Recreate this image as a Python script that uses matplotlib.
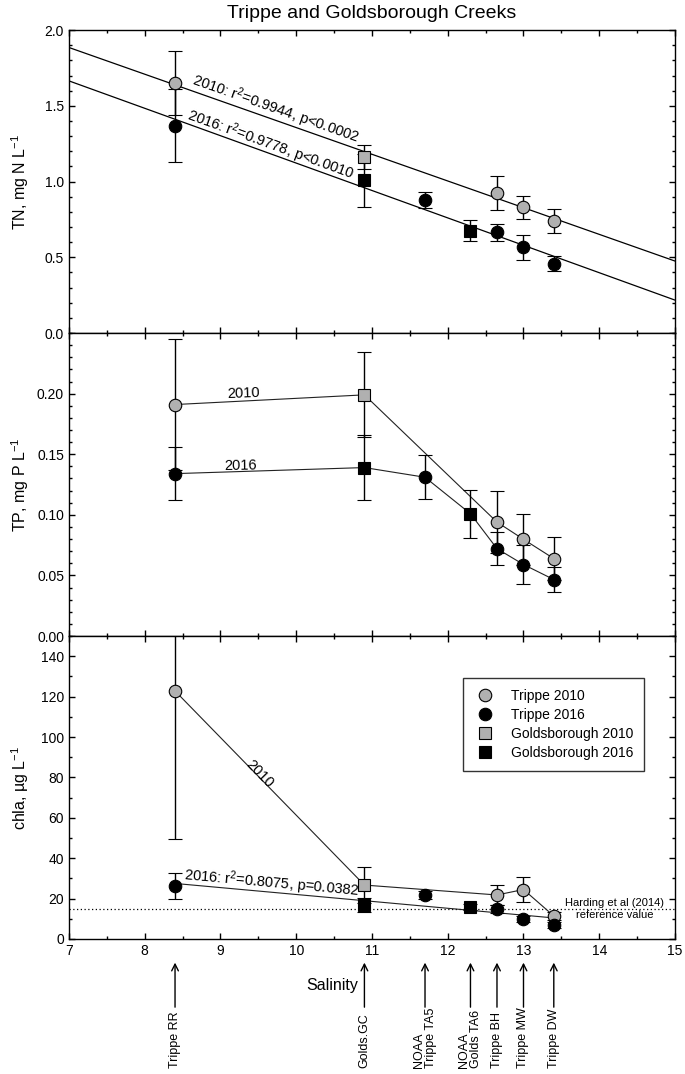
import numpy as np
import matplotlib
matplotlib.use("Agg")
import matplotlib.pyplot as plt
from matplotlib.lines import Line2D
from matplotlib.ticker import MultipleLocator, FormatStrFormatter

plt.rcParams['font.family'] = ['Liberation Sans', 'DejaVu Sans']
plt.rcParams['mathtext.fontset'] = 'custom'
plt.rcParams['mathtext.rm'] = 'Liberation Sans'
plt.rcParams['mathtext.it'] = 'Liberation Sans:italic'

# salinity of each site (x positions)
sal_trippe10 = [8.4, 12.65, 13.0, 13.4]
sal_trippe16 = [8.4, 11.7, 12.65, 13.0, 13.4]
sal_golds10 = [10.9]
sal_golds16 = [10.9, 12.3]

# TN, mg N/L  (mean, error)
tn_trippe10 = [1.65, 0.925, 0.83, 0.742]
tn_trippe10_err = [0.21, 0.113, 0.075, 0.08]
tn_trippe16 = [1.37, 0.879, 0.664, 0.565, 0.459]
tn_trippe16_err = [0.24, 0.055, 0.056, 0.081, 0.047]
tn_golds10 = [1.163]
tn_golds10_err = [0.08]
tn_golds16 = [1.007, 0.675]
tn_golds16_err = [0.177, 0.068]

# TP, mg P/L
tp_trippe10 = [0.191, 0.094, 0.0798, 0.0639]
tp_trippe10_err = [0.054, 0.0255, 0.021, 0.018]
tp_trippe16 = [0.134, 0.131, 0.0721, 0.059, 0.0466]
tp_trippe16_err = [0.022, 0.018, 0.0135, 0.0157, 0.010]
tp_golds10 = [0.199]
tp_golds10_err = [0.035]
tp_golds16 = [0.139, 0.1009]
tp_golds16_err = [0.027, 0.02]

# chla, ug/L
chl_trippe10 = [122.8, 21.8, 24.5, 11.4]
chl_trippe10_err = [73.5, 5.0, 6.0, 2.0]
chl_trippe16 = [26.2, 21.8, 14.7, 9.7, 6.9]
chl_trippe16_err = [6.5, 2.0, 2.0, 1.5, 1.5]
chl_golds10 = [26.7]
chl_golds10_err = [9.0]
chl_golds16 = [16.8, 16.0]
chl_golds16_err = [3.5, 1.5]

harding_ref = 15

site_sal = [8.4, 10.9, 11.7, 12.3, 12.65, 13.0, 13.4]
site_names = ['Trippe RR', 'Golds.GC', 'NOAA\nTrippe TA5', 'NOAA\nGolds TA6',
              'Trippe BH', 'Trippe MW', 'Trippe DW']

GRAY = '#b0b0b0'
MS = 9


def draw_points(ax, tr10, tr10e, tr16, tr16e, g10, g10e, g16, g16e):
    kw = dict(linestyle='none', ecolor='black', elinewidth=1, capsize=4.8,
              capthick=1, markeredgecolor='black', markeredgewidth=0.8,
              markersize=MS, zorder=3)
    ax.errorbar(sal_trippe10, tr10, yerr=tr10e, fmt='o', markerfacecolor=GRAY, **kw)
    ax.errorbar(sal_trippe16, tr16, yerr=tr16e, fmt='o', markerfacecolor='black', **kw)
    ax.errorbar(sal_golds10, g10, yerr=g10e, fmt='s', markerfacecolor=GRAY, **kw)
    ax.errorbar(sal_golds16, g16, yerr=g16e, fmt='s', markerfacecolor='black', **kw)


def combined(sal_a, val_a, sal_b, val_b):
    x = np.array(sal_a + sal_b)
    y = np.array(val_a + val_b)
    order = np.argsort(x, kind='stable')
    return x[order], y[order]


def style_axis(ax):
    ax.set_xlim(7, 15)
    ax.xaxis.set_major_locator(MultipleLocator(1))
    ax.xaxis.set_minor_locator(MultipleLocator(0.5))
    ax.tick_params(which='both', direction='in', top=True, right=True,
                   labelsize=10, width=1)
    ax.tick_params(which='major', length=4)
    ax.tick_params(which='minor', length=2.5)
    for sp in ax.spines.values():
        sp.set_linewidth(1)


fig = plt.figure(figsize=(6.85, 10.74), dpi=100)
left, width, height = 0.1007, 0.8847, 0.2821
ax_tn = fig.add_axes([left, 0.6899, width, height])
ax_tp = fig.add_axes([left, 0.4078, width, height])
ax_chl = fig.add_axes([left, 0.1257, width, height])

# ---- TN panel ----
style_axis(ax_tn)
ax_tn.set_ylim(0, 2.0)
ax_tn.yaxis.set_major_locator(MultipleLocator(0.5))
ax_tn.yaxis.set_minor_locator(MultipleLocator(0.1))
ax_tn.yaxis.set_major_formatter(FormatStrFormatter('%.1f'))
ax_tn.tick_params(labelbottom=False)

x10, y10 = combined(sal_trippe10, tn_trippe10, sal_golds10, tn_golds10)
x16, y16 = combined(sal_trippe16, tn_trippe16, sal_golds16, tn_golds16)
fit10 = np.polyfit(x10, y10, 1)
fit16 = np.polyfit(x16, y16, 1)
xx = np.array([7, 15])
ax_tn.plot(xx, np.polyval(fit10, xx), color='black', lw=0.9, zorder=2)
ax_tn.plot(xx, np.polyval(fit16, xx), color='black', lw=0.9, zorder=2)
draw_points(ax_tn, tn_trippe10, tn_trippe10_err, tn_trippe16, tn_trippe16_err,
            tn_golds10, tn_golds10_err, tn_golds16, tn_golds16_err)
ax_tn.text(9.72, np.polyval(fit10, 9.72) + 0.075, '2010: r$^2$=0.9944, p<0.0002',
           rotation=np.degrees(np.arctan(fit10[0])), transform_rotates_text=True,
           rotation_mode='anchor', ha='center', va='center', fontsize=10.5)
ax_tn.text(9.66, np.polyval(fit16, 9.66) + 0.062, '2016: r$^2$=0.9778, p<0.0010',
           rotation=np.degrees(np.arctan(fit16[0])), transform_rotates_text=True,
           rotation_mode='anchor', ha='center', va='center', fontsize=10.5)
ax_tn.set_ylabel('TN, mg N L$^{-1}$', fontsize=11.5)
ax_tn.yaxis.set_label_coords(-0.063, 0.5)
ax_tn.set_title('Trippe and Goldsborough Creeks', fontsize=14, pad=9)

# ---- TP panel ----
style_axis(ax_tp)
ax_tp.set_ylim(0, 0.25)
ax_tp.set_yticks([0, 0.05, 0.10, 0.15, 0.20])
ax_tp.yaxis.set_minor_locator(MultipleLocator(0.01))
ax_tp.yaxis.set_major_formatter(FormatStrFormatter('%.2f'))
ax_tp.tick_params(labelbottom=False)

x10, y10 = combined(sal_trippe10, tp_trippe10, sal_golds10, tp_golds10)
x16, y16 = combined(sal_trippe16, tp_trippe16, sal_golds16, tp_golds16)
ax_tp.plot(x10, y10, color='#222222', lw=0.8, zorder=2)
ax_tp.plot(x16, y16, color='#222222', lw=0.8, zorder=2)
draw_points(ax_tp, tp_trippe10, tp_trippe10_err, tp_trippe16, tp_trippe16_err,
            tp_golds10, tp_golds10_err, tp_golds16, tp_golds16_err)
ax_tp.text(9.3, 0.200, '2010', ha='center', va='center', fontsize=10.5, rotation=2)
ax_tp.text(9.26, 0.1405, '2016', ha='center', va='center', fontsize=10.5, rotation=1)
ax_tp.set_ylabel('TP, mg P L$^{-1}$', fontsize=11.5)
ax_tp.yaxis.set_label_coords(-0.063, 0.5)

# ---- chla panel ----
style_axis(ax_chl)
ax_chl.set_ylim(0, 150)
ax_chl.set_yticks(np.arange(0, 141, 20))
ax_chl.yaxis.set_minor_locator(MultipleLocator(10))

x10, y10 = combined(sal_trippe10, chl_trippe10, sal_golds10, chl_golds10)
x16, y16 = combined(sal_trippe16, chl_trippe16, sal_golds16, chl_golds16)
ax_chl.plot(x10, y10, color='#222222', lw=0.8, zorder=2)
fitc = np.polyfit(x16, y16, 1)
xr = np.array([x16.min(), x16.max()])
ax_chl.plot(xr, np.polyval(fitc, xr), color='#222222', lw=0.8, zorder=2)
ax_chl.axhline(harding_ref, color='black', lw=0.9, ls=(0, (1, 2)), zorder=1)
draw_points(ax_chl, chl_trippe10, chl_trippe10_err, chl_trippe16, chl_trippe16_err,
            chl_golds10, chl_golds10_err, chl_golds16, chl_golds16_err)

slope10 = (y10[1] - y10[0]) / (x10[1] - x10[0])
ax_chl.text(9.52, y10[0] + slope10 * (9.52 - x10[0]) + 2, '2010',
            rotation=np.degrees(np.arctan(slope10)), transform_rotates_text=True,
            rotation_mode='anchor', ha='center', va='center', fontsize=10.5)
ax_chl.text(9.68, np.polyval(fitc, 9.68) + 4.5, '2016: r$^2$=0.8075, p=0.0382',
            rotation=np.degrees(np.arctan(fitc[0])), transform_rotates_text=True,
            rotation_mode='anchor', ha='center', va='center', fontsize=10.5)
ax_chl.text(14.2, harding_ref, 'Harding et al (2014)\nreference value',
            ha='center', va='center', fontsize=8, linespacing=1.2)

ax_chl.set_ylabel('chla, \u00b5g L$^{-1}$', fontsize=11.5)
ax_chl.yaxis.set_label_coords(-0.063, 0.5)
ax_chl.set_xlabel('Salinity', fontsize=11.5)
ax_chl.xaxis.set_label_coords(0.435, -0.13)

handles = [
    Line2D([], [], ls='none', marker='o', ms=MS, mfc=GRAY, mec='black', mew=0.8),
    Line2D([], [], ls='none', marker='o', ms=MS, mfc='black', mec='black', mew=0.8),
    Line2D([], [], ls='none', marker='s', ms=MS - 1, mfc=GRAY, mec='black', mew=0.8),
    Line2D([], [], ls='none', marker='s', ms=MS - 1, mfc='black', mec='black', mew=0.8),
]
labels = ['Trippe 2010', 'Trippe 2016', 'Goldsborough 2010', 'Goldsborough 2016']
leg = ax_chl.legend(handles, labels, loc='upper left', bbox_to_anchor=(0.651, 0.861),
                    fontsize=10, frameon=True, fancybox=False, edgecolor='black',
                    handlelength=1.5, handletextpad=1.1, borderpad=0.8,
                    labelspacing=0.35, borderaxespad=0)
leg.get_frame().set_linewidth(1)

# site arrows and names below the salinity axis
xt = ax_chl.get_xaxis_transform()
for s, name in zip(site_sal, site_names):
    ax_chl.annotate('', xy=(s, -0.078), xytext=(s, -0.225), xycoords=xt,
                    textcoords=xt, annotation_clip=False,
                    arrowprops=dict(arrowstyle='->', lw=1, color='black',
                                    shrinkA=0, shrinkB=0, mutation_scale=12))
    ax_chl.text(s, -0.426, name, transform=xt, rotation=90, ha='center',
                va='bottom', multialignment='left', fontsize=9, linespacing=1.0)

fig.savefig('out.png', dpi=100)
